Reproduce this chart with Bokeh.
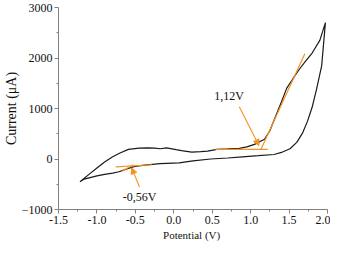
from bokeh.plotting import figure
from bokeh.models import Label, Arrow, NormalHead, FixedTicker
from bokeh.embed import file_html
from bokeh.resources import INLINE

# Cyclic voltammogram (potential in V, current in uA)
cv_x = [-1.22, -1.10, -1.00, -0.90, -0.795, -0.70, -0.59, -0.45, -0.342, -0.25,
        -0.177, -0.095, 0.029, 0.10, 0.234, 0.35, 0.44, 0.564, 0.70, 0.852,
        0.95, 1.05, 1.18, 1.25, 1.306, 1.40, 1.47, 1.55, 1.636, 1.72,
        1.80, 1.90, 1.973,
        1.95, 1.924, 1.86, 1.80, 1.74, 1.677, 1.60, 1.512, 1.40, 1.306,
        1.10, 0.894, 0.70, 0.48, 0.25, 0.07, -0.177, -0.35, -0.507, -0.60,
        -0.713, -0.795, -0.90, -1.00, -1.166, -1.22]
cv_y = [-450, -300, -177, -60, 44, 120, 190, 215, 222, 215,
        203, 222, 184, 165, 138, 145, 157, 192, 200, 210,
        240, 290, 392, 560, 771, 1130, 1403, 1590, 1782, 1950,
        2098, 2350, 2700,
        2300, 1845, 1400, 1024, 750, 518, 330, 203, 130, 89,
        65, 44, 20, 0, -38, -75, -90, -115, -146, -190,
        -253, -278, -305, -335, -398, -450]

# Orange tangent construction lines
tan_x = [[0.543, 1.223], [1.133, 1.705], [-0.755, -0.28], [-0.672, -0.527]]
tan_y = [[190, 190], [190, 2086], [-157, -114], [-241, -114]]

# Annotations: label text, label position, arrow tail, arrow head
ann_text = ["1,12V", "-0,56V"]
ann_pos = [(0.721, 1246), (-0.446, -745)]
arrow_tail = [(0.852, 1037), (-0.446, -556)]
arrow_head = [(1.108, 265), (-0.548, -176)]

x_ticks = [-1.5, -1.0, -0.5, 0.0, 0.5, 1.0, 1.5, 2.0]
x_tick_labels = ["-1.5", "-1.0", "-0.5", "0.0", "0.5", "1.0", "1.5", "2.0"]
y_ticks = [-1000, 0, 1000, 2000, 3000]
x_title = "Potential  (V)"
y_title = "Current (μA)"

ORANGE = "#f39324"
SERIF = "Liberation Serif"

p = figure(width=330, height=243, x_range=(-1.5, 2.0), y_range=(-1000, 3000),
           output_backend="svg", toolbar_location=None,
           min_border_left=40, min_border_right=3, min_border_top=7, min_border_bottom=30)
p.outline_line_color = None
p.xgrid.visible = False
p.ygrid.visible = False
p.background_fill_color = "white"

p.line(cv_x, cv_y, line_color="#1a1a1a", line_width=1.2)
p.multi_line(tan_x, tan_y, line_color=ORANGE, line_width=1.2)

for t, (lx, ly), (tx, ty), (hx, hy) in zip(ann_text, ann_pos, arrow_tail, arrow_head):
    p.add_layout(Arrow(x_start=tx, y_start=ty, x_end=hx, y_end=hy,
                       line_color=ORANGE, line_width=1.1,
                       end=NormalHead(size=6, fill_color=ORANGE, line_color=ORANGE)))
    p.add_layout(Label(x=lx, y=ly, text=t, text_font=SERIF, text_font_size="12px",
                       text_align="center", text_baseline="middle", text_color="#111111"))

for ax in (p.xaxis[0], p.yaxis[0]):
    ax.axis_line_color = "#808080"
    ax.major_tick_line_color = "#808080"
    ax.minor_tick_line_color = "#808080"
    ax.major_tick_out = 4
    ax.major_tick_in = 0
    ax.minor_tick_out = 2
    ax.minor_tick_in = 0
    ax.major_label_text_font = SERIF
    ax.major_label_text_font_size = "12px"
    ax.major_label_text_color = "#111111"
    ax.major_label_standoff = 2
    ax.axis_label_text_font = SERIF
    ax.axis_label_text_font_style = "normal"
    ax.axis_label_text_color = "#111111"

p.xaxis.ticker = FixedTicker(ticks=x_ticks, minor_ticks=[-1.25, -0.75, -0.25, 0.25, 0.75, 1.25, 1.75])
p.xaxis.major_label_overrides = {t: l for t, l in zip(x_ticks, x_tick_labels)}
p.yaxis.ticker = FixedTicker(ticks=y_ticks, minor_ticks=[-500, 500, 1500, 2500])
p.xaxis.axis_label = x_title
p.xaxis.axis_label_text_font_size = "11px"
p.xaxis.axis_label_standoff = 2
p.yaxis.axis_label = y_title
p.yaxis.axis_label_text_font_size = "14px"
p.yaxis.axis_label_standoff = 0

open("out.html", "w").write(file_html(p, INLINE))
